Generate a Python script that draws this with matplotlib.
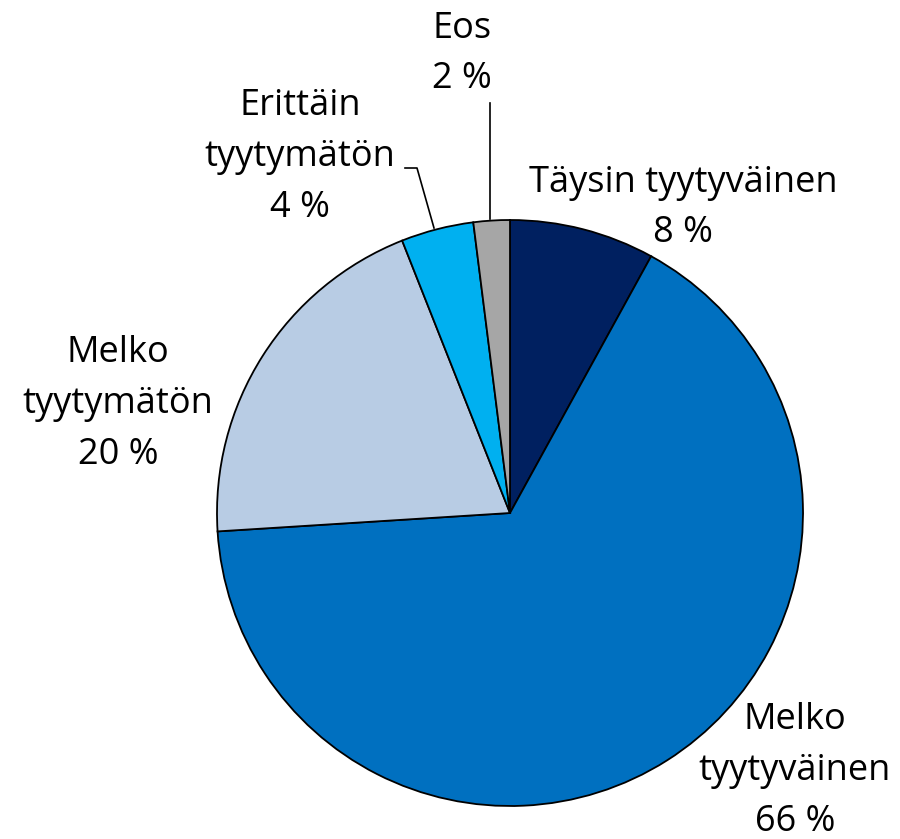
import matplotlib.pyplot as plt

labels = ["Täysin tyytyväinen", "Melko\ntyytyväinen", "Melko\ntyytymätön",
          "Erittäin\ntyytymätön", "Eos"]
values = [8, 66, 20, 4, 2]
colors = ["#002060", "#0070c0", "#b8cce4", "#00b0f0", "#a6a6a6"]

W, H = 900, 839

fig = plt.figure(figsize=(9, 8.39), dpi=100)
ax = fig.add_axes([0, 0, 1, 1])

cx, cy, r = 510, H - 513, 293
ax.pie(values, colors=colors, startangle=90, counterclock=False,
       center=(cx, cy), radius=r, frame=True,
       wedgeprops=dict(edgecolor="black", linewidth=1.3))
ax.set_xlim(0, W)
ax.set_ylim(0, H)
ax.set_aspect("equal")
ax.axis("off")

# label positions (pixel coords, y from top)
pos = [(683, 208), (795, 771), (118, 404), (300, 157), (462, 54)]
fs = 26
for lab, v, (x, y) in zip(labels, values, pos):
    ax.text(x, H - y, f"{lab}\n{v} %", ha="center", va="center",
            fontsize=fs, family="Open Sans", linespacing=1.55)

# leader lines
ax.plot([405, 417, 434], [H - 168, H - 168, H - 228], color="black", lw=1.2)
ax.plot([490, 490], [H - 103, H - 219], color="black", lw=1.2)

fig.savefig("out.png", dpi=100)
